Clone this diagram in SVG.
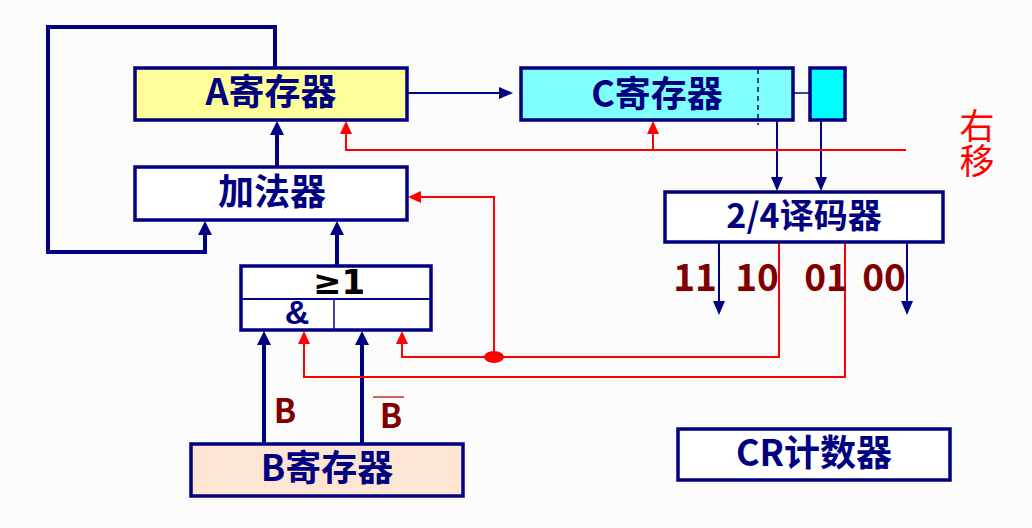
<svg xmlns="http://www.w3.org/2000/svg" width="1032" height="528" viewBox="0 0 1032 528">
<style>
.box{stroke:#000080;stroke-width:3.5}
.lbl{font-family:"Noto Sans CJK SC","Noto Sans",sans-serif;font-weight:bold;fill:#000080;text-anchor:middle}
.num{font-family:"Noto Sans CJK SC","Noto Sans",sans-serif;font-weight:bold;fill:#800000;text-anchor:middle}
.bt{fill:none;stroke:#000080;stroke-width:4}
.bn{fill:none;stroke:#000080;stroke-width:2}
.rd{fill:none;stroke:#ff0000;stroke-width:2}
</style>
<defs>
<marker id="hbt" markerUnits="userSpaceOnUse" markerWidth="14" markerHeight="14" refX="0" refY="7" orient="auto"><path d="M0,0 L14,7 L0,14 z" fill="#000080"/></marker>
<marker id="hbn" markerUnits="userSpaceOnUse" markerWidth="14" markerHeight="12" refX="0" refY="6" orient="auto"><path d="M0,0 L14,6 L0,12 z" fill="#000080"/></marker>
<marker id="hrd" markerUnits="userSpaceOnUse" markerWidth="13" markerHeight="12" refX="0" refY="6" orient="auto"><path d="M0,0 L13,6 L0,12 z" fill="#ff0000"/></marker>
</defs>
<rect width="1032" height="528" fill="#fbfbfb"/>

<g id="connectors">
<polyline class="bt" points="275,68 275,27 48,27 48,252 205,252 205,235" marker-end="url(#hbt)"/>
<line class="bt" x1="277" y1="167" x2="277" y2="135" marker-end="url(#hbt)"/>
<line class="bt" x1="337" y1="266" x2="337" y2="235" marker-end="url(#hbt)"/>
<line class="bt" x1="264" y1="444" x2="264" y2="345" marker-end="url(#hbt)"/>
<line class="bt" x1="362" y1="444" x2="362" y2="345" marker-end="url(#hbt)"/>
<line class="bn" x1="408" y1="93" x2="499" y2="93" marker-end="url(#hbn)"/>
<line x1="788" y1="93" x2="809" y2="93" stroke="#000080" stroke-width="1.5"/>
<line class="bn" x1="777" y1="121" x2="777" y2="177" marker-end="url(#hbn)"/>
<line class="bn" x1="821" y1="121" x2="821" y2="177" marker-end="url(#hbn)"/>
<line class="bn" x1="719" y1="242" x2="719" y2="301" marker-end="url(#hbn)"/>
<line class="bn" x1="907" y1="242" x2="907" y2="301" marker-end="url(#hbn)"/>
<polyline class="rd" points="906,150 346,150 346,134" marker-end="url(#hrd)"/>
<line class="rd" x1="653" y1="150" x2="653" y2="134" marker-end="url(#hrd)"/>
<polyline class="rd" points="494,357 494,197 421,197" marker-end="url(#hrd)"/>
<polyline class="rd" points="779,242 779,357 402,357 402,344" marker-end="url(#hrd)"/>
<polyline class="rd" points="845,242 845,377 304,377 304,344" marker-end="url(#hrd)"/>
<ellipse cx="494" cy="357" rx="10" ry="6" fill="#ff0000"/>
</g>

<g id="regA">
<rect class="box" x="135" y="68" width="272" height="52" fill="#ffff99"/>
<text class="lbl" x="271" y="105" font-size="36">A寄存器</text>
</g>
<g id="adder">
<rect class="box" x="135" y="167" width="272" height="53" fill="#ffffff"/>
<text class="lbl" x="272" y="205" font-size="36">加法器</text>
</g>
<g id="regC">
<rect class="box" x="521" y="68" width="272" height="52" fill="#80ffff"/>
<line x1="758" y1="69" x2="758" y2="125" stroke="#000080" stroke-width="1.5" stroke-dasharray="5,4"/>
<text class="lbl" x="657" y="107" font-size="36">C寄存器</text>
</g>
<g id="cbit">
<rect class="box" x="810" y="68" width="35" height="52" fill="#00ffff"/>
</g>
<g id="shift">
<text x="977" y="108" font-size="35" fill="#ff0000" writing-mode="vertical-rl" font-family="Noto Sans CJK SC,sans-serif">右移</text>
</g>
<g id="decoder">
<rect class="box" x="665" y="192" width="278" height="50" fill="#ffffff"/>
<text class="lbl" x="804" y="228" font-size="34">2/4译码器</text>
</g>
<g id="outputs">
<text class="num" x="695" y="291" font-size="37">11</text>
<text class="num" x="757" y="291" font-size="37">10</text>
<text class="num" x="826" y="291" font-size="37">01</text>
<text class="num" x="884" y="291" font-size="37">00</text>
</g>
<g id="gate">
<rect class="box" x="241" y="266" width="190" height="64" fill="#ffffff"/>
<line x1="241" y1="299" x2="431" y2="299" stroke="#000080" stroke-width="2"/>
<line x1="334" y1="299" x2="334" y2="330" stroke="#000080" stroke-width="1.5"/>
<text x="339" y="294" font-size="34" font-weight="bold" font-family="DejaVu Sans,sans-serif" fill="#000000" text-anchor="middle">≥1</text>
<text x="297" y="324" font-size="34" font-weight="bold" font-family="Liberation Sans,sans-serif" fill="#000080" text-anchor="middle">&amp;</text>
</g>
<g id="blabels">
<text class="num" x="285" y="423" font-size="33">B</text>
<text class="num" x="391" y="428" font-size="33">B</text>
<line x1="373" y1="397" x2="404" y2="397" stroke="#c03020" stroke-width="1.5"/>
</g>
<g id="regB">
<rect class="box" x="191" y="444" width="272" height="52" fill="#fde5d3"/>
<text class="lbl" x="327" y="481" font-size="36">B寄存器</text>
</g>
<g id="cr">
<rect class="box" x="678" y="429" width="272" height="51" fill="#ffffff"/>
<text class="lbl" x="814" y="466" font-size="36">CR计数器</text>
</g>
</svg>
